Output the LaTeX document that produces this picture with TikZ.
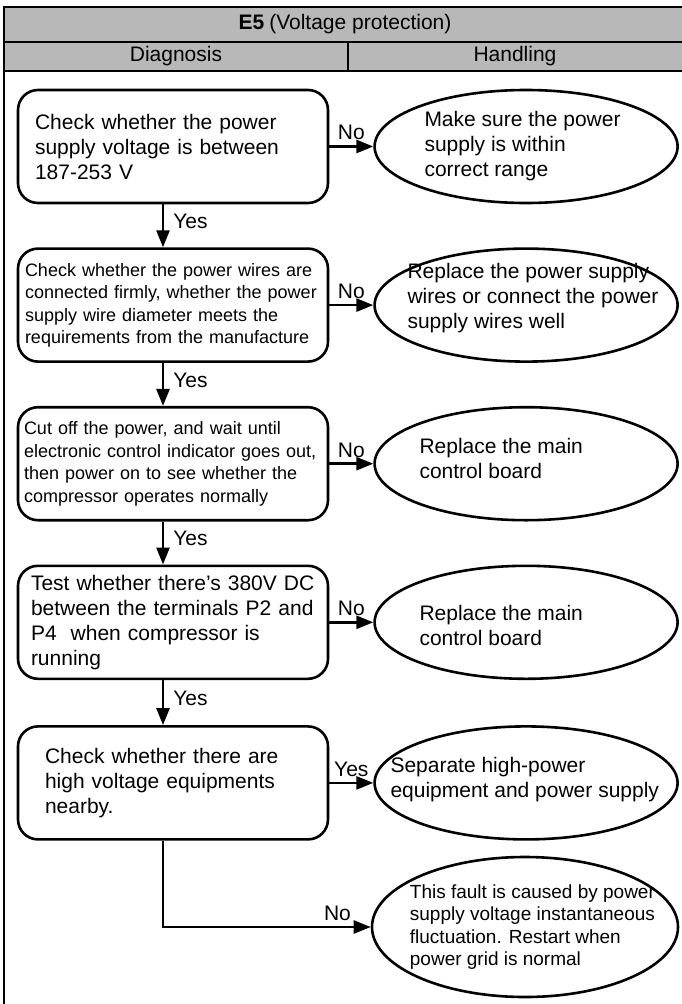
\documentclass[tikz,border=0pt]{standalone}
\usepackage{fontspec}
\setmainfont{Liberation Sans}
\usetikzlibrary{arrows.meta, positioning, shapes.geometric}
\definecolor{headgray}{gray}{0.72}

\begin{document}
\begin{tikzpicture}[x=1pt, y=-1pt, >={Triangle[length=17pt, width=13pt]},
    frame/.style={line width=2.6pt},
    head/.style={font=\fontsize{21}{25}\selectfont, inner sep=0pt},
    diag/.style={draw, line width=2.6pt, rounded corners=20pt, minimum width=310pt, minimum height=113pt, align=left, inner ysep=0pt, inner xsep=#1},
    big/.style={font=\fontsize{21}{25}\selectfont},
    small/.style={font=\fontsize{18}{22.5}\selectfont},
    handle/.style={draw, ellipse, line width=2.6pt, minimum width=303pt, minimum height=113pt, inner sep=0pt},
    htext/.style={align=left, inner sep=0pt, font=\fontsize{21}{25}\selectfont},
    flow/.style={->, line width=2.6pt},
    tag/.style={font=\fontsize{21}{25}\selectfont, inner sep=1pt}]
    \useasboundingbox (0,0) rectangle (682,1004);
    \fill[headgray] (4,7) rectangle (690,71);
    \draw[frame] (690,7) -- (4,7) -- (4,1010);
    \draw[frame] (4,42) -- (690,42);
    \draw[frame] (4,71) -- (690,71);
    \draw[frame] (348,42) -- (348,71);
    \node[head] (title) at (345,24.5) {\textbf{E5}\hspace{5pt}(Voltage protection)};
    \node[head] (diagnosis) at (176,56.5) {Diagnosis};
    \node[head] (handling) at (515,56.5) {Handling};

    \node[diag=17pt, big, text width=276pt] (b1) at (173,146.5) {Check whether the power\\supply voltage is between\\187-253 V};
    \node[diag=7pt, small, text width=296pt, below=43pt of b1] (b2) {Check whether the power wires are\\connected firmly, whether the power\\supply wire diameter meets the\\requirements from the manufacture};
    \node[diag=6pt, small, text width=298pt, below=43pt of b2] (b3) {Cut off the power, and wait until\\electronic control indicator goes out,\\then power on to see whether the\\compressor operates normally};
    \node[diag=13pt, big, text width=284pt, below=43pt of b3] (b4) {Test whether there’s 380V DC\\between the terminals P2 and\\P4\ \ when compressor is\\running};
    \node[diag=27pt, big, text width=256pt, below=45pt of b4] (b5) {Check whether there are\\high voltage equipments\\nearby.};

    \node[handle, right=44pt of b1] (h1) {};
    \node[handle, right=44pt of b2] (h2) {};
    \node[handle, right=44pt of b3] (h3) {};
    \node[handle, right=44pt of b4] (h4) {};
    \node[handle, right=44pt of b5] (h5) {};
    \node[handle, minimum width=306pt, minimum height=140pt] (h6) at (525,927) {};

    \node[htext, right=51pt of h1.west] (h1t) {Make sure the power\\supply is within\\correct range};
    \node[htext, right=34pt of h2.west, yshift=7pt] (h2t) {Replace the power supply\\wires or connect the power\\supply wires well};
    \node[htext, right=46pt of h3.west, yshift=5pt] (h3t) {Replace the main\\control board};
    \node[htext, right=46pt of h4.west, yshift=-3pt] (h4t) {Replace the main\\control board};
    \node[htext, right=17pt of h5.west, yshift=3pt] (h5t) {Separate high-power\\equipment and power supply};
    \node[htext, right=39pt of h6.west, font=\fontsize{19}{22.5}\selectfont] (h6t) {This fault is caused by power\\supply voltage instantaneous\\fluctuation. Restart when\\power grid is normal};

    \draw[flow] ([xshift=-10pt]b1.south) -- node[tag, right=8pt, pos=0.4] {Yes} ([xshift=-10pt]b2.north);
    \draw[flow] ([xshift=-10pt]b2.south) -- node[tag, right=8pt, pos=0.4] {Yes} ([xshift=-10pt]b3.north);
    \draw[flow] ([xshift=-10pt]b3.south) -- node[tag, right=8pt, pos=0.4] {Yes} ([xshift=-10pt]b4.north);
    \draw[flow] ([xshift=-10pt]b4.south) -- node[tag, right=8pt, pos=0.4] {Yes} ([xshift=-10pt]b5.north);
    \draw[flow] (b1.east) -- node[tag, above=4pt] {No} (h1.west);
    \draw[flow] (b2.east) -- node[tag, above=4pt] {No} (h2.west);
    \draw[flow] (b3.east) -- node[tag, above=4pt] {No} (h3.west);
    \draw[flow] (b4.east) -- node[tag, above=4pt] {No} (h4.west);
    \draw[flow] (b5.east) -- node[tag, above=4pt] {Yes} (h5.west);
    \draw[flow] ([xshift=-10pt]b5.south) |- node[tag, above=4pt, pos=0.92] {No} (h6.west);
\end{tikzpicture}
\end{document}
